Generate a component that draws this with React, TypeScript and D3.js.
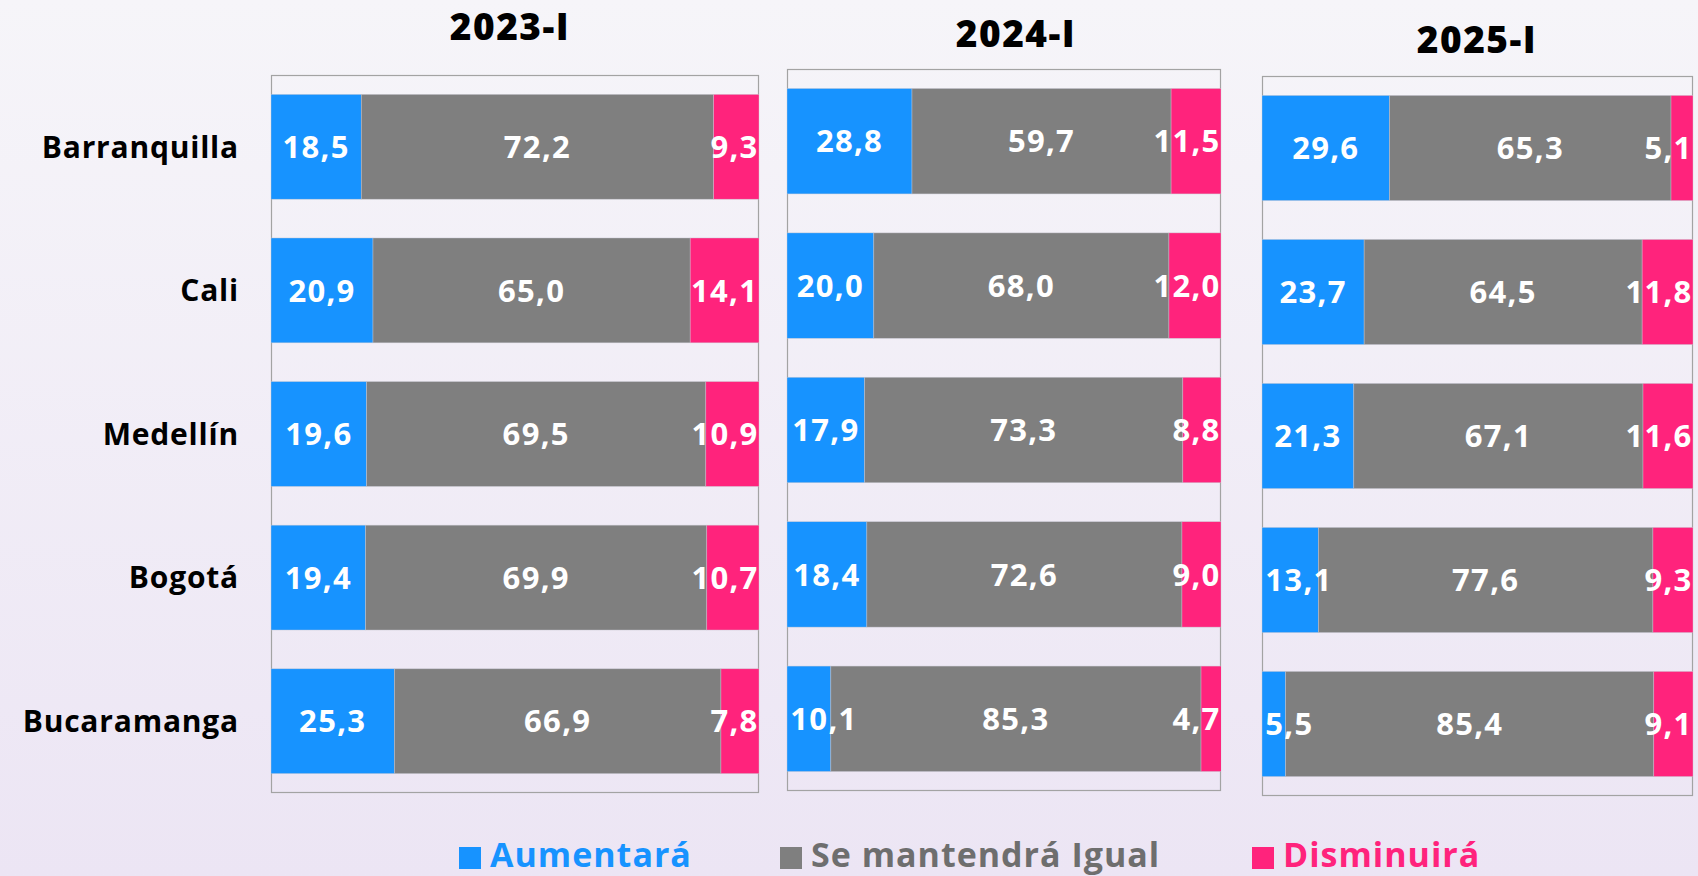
import React from "react";
import * as d3 from "d3";

const cities = ["Barranquilla", "Cali", "Medellín", "Bogotá", "Bucaramanga"];
const periods = ["2023-I", "2024-I", "2025-I"];
const seriesNames = ["Aumentará", "Se mantendrá Igual", "Disminuirá"];
const seriesColors = ["#1793FF", "#7F7F7F", "#FF237C"];
const legendTextColors = ["#1793FF", "#6E6E6E", "#FF237C"];

const aumentara2023 = [18.5, 20.9, 19.6, 19.4, 25.3];
const igual2023 = [72.2, 65.0, 69.5, 69.9, 66.9];
const disminuira2023 = [9.3, 14.1, 10.9, 10.7, 7.8];

const aumentara2024 = [28.8, 20.0, 17.9, 18.4, 10.1];
const igual2024 = [59.7, 68.0, 73.3, 72.6, 85.3];
const disminuira2024 = [11.5, 12.0, 8.8, 9.0, 4.7];

const aumentara2025 = [29.6, 23.7, 21.3, 13.1, 5.5];
const igual2025 = [65.3, 64.5, 67.1, 77.6, 85.4];
const disminuira2025 = [5.1, 11.8, 11.6, 9.3, 9.1];

const periodSeries = [
  [aumentara2023, igual2023, disminuira2023],
  [aumentara2024, igual2024, disminuira2024],
  [aumentara2025, igual2025, disminuira2025],
];

// layout (pixels)
const W = 1698;
const H = 876;
const panels = [
  { x0: 271, x1: 759, y0: 75, y1: 793, tx: 510, ty: 40 },
  { x0: 787, x1: 1221, y0: 69, y1: 791, tx: 1016, ty: 47 },
  { x0: 1262, x1: 1693, y0: 76, y1: 796, tx: 1477, ty: 53 },
];
const FONT = "'Open Sans', Lato, sans-serif";
const valueFontSize = 31;
const valueLetterSpacing = 1.3;

let canvasCtx: CanvasRenderingContext2D | null = null;
function measure(text: string, font: string, ls: number): number {
  if (!canvasCtx) {
    const c = document.createElement("canvas");
    canvasCtx = c.getContext("2d");
  }
  if (!canvasCtx) return text.length * 17;
  canvasCtx.font = font;
  return canvasCtx.measureText(text).width + ls * (text.length - 1);
}

const fmt = (v: number) => d3.format(".1f")(v).replace(".", ",");

function Panel({ idx }: { idx: number }) {
  const p = panels[idx];
  const data = periodSeries[idx];
  const x = d3.scaleLinear().domain([0, 100]).range([p.x0, p.x1]);
  const y = d3
    .scaleBand<string>()
    .domain(cities)
    .range([p.y0, p.y1])
    .paddingInner(0.27)
    .paddingOuter(0.135);
  const rows = cities.map((c, i) => ({
    city: c,
    a: data[0][i],
    g: data[1][i],
    d: data[2][i],
  }));
  const stack = d3.stack<any>().keys(["a", "g", "d"])(rows);
  const clipId = `clip-${idx}`;
  return (
    <g>
      <defs>
        <clipPath id={clipId}>
          <rect x={p.x0} y={p.y0} width={p.x1 - p.x0} height={p.y1 - p.y0} />
        </clipPath>
      </defs>
      <text
        x={p.tx}
        y={p.ty}
        textAnchor="middle"
        fontFamily={FONT}
        fontWeight={800}
        fontSize={37}
        letterSpacing={1.5}
        fill="#000"
      >
        {periods[idx]}
      </text>
      <rect
        x={p.x0 + 0.5}
        y={p.y0 + 0.5}
        width={p.x1 - p.x0 - 1}
        height={p.y1 - p.y0 - 1}
        fill="none"
        stroke="#A3A3A3"
        strokeWidth={1.2}
      />
      <g clipPath={`url(#${clipId})`}>
        {stack.map((layer, si) =>
          layer.map((seg, ri) => {
            const xs = x(seg[0]);
            const xe = x(seg[1]);
            const yy = y(cities[ri]) as number;
            return (
              <rect
                key={`r${si}-${ri}`}
                x={xs}
                y={yy}
                width={xe - xs}
                height={y.bandwidth()}
                fill={seriesColors[si]}
                stroke="rgba(200,200,210,0.7)"
                strokeWidth={0.6}
              />
            );
          })
        )}
        {stack.map((layer, si) =>
          layer.map((seg, ri) => {
            const v = data[si][ri];
            const label = fmt(v);
            const tw = measure(label, `700 ${valueFontSize}px ${FONT}`, valueLetterSpacing);
            const center = (x(seg[0]) + x(seg[1])) / 2;
            const half = tw / 2;
            const cx = Math.max(p.x0 + half + 4, Math.min(p.x1 - half - 1, center));
            const yy = (y(cities[ri]) as number) + y.bandwidth() / 2;
            return (
              <text
                key={`t${si}-${ri}`}
                x={cx}
                y={yy}
                dy="0.36em"
                textAnchor="middle"
                fontFamily={FONT}
                fontWeight={700}
                fontSize={valueFontSize}
                letterSpacing={valueLetterSpacing}
                fill="#FFFFFF"
              >
                {label}
              </text>
            );
          })
        )}
      </g>
    </g>
  );
}

export default function App() {
  const p = panels[0];
  const y = d3
    .scaleBand<string>()
    .domain(cities)
    .range([p.y0, p.y1])
    .paddingInner(0.27)
    .paddingOuter(0.135);
  const legendItems = [
    { sx: 459, tx: 490 },
    { sx: 780, tx: 811 },
    { sx: 1252, tx: 1283 },
  ];
  return (
    <svg
      width={W}
      height={H}
      style={{ position: "absolute", left: 0, top: 0, display: "block" }}
    >
      <defs>
        <linearGradient id="bg" x1="0" y1="0" x2="0" y2="1">
          <stop offset="0%" stopColor="#F6F5F9" />
          <stop offset="100%" stopColor="#ECE5F4" />
        </linearGradient>
      </defs>
      <rect x={0} y={0} width={W} height={H} fill="url(#bg)" />
      {cities.map((c) => (
        <text
          key={c}
          x={239}
          y={(y(c) as number) + y.bandwidth() / 2}
          dy="0.36em"
          textAnchor="end"
          fontFamily={FONT}
          fontWeight={700}
          fontSize={30}
          letterSpacing={0.8}
          fill="#000"
        >
          {c}
        </text>
      ))}
      {periods.map((_, i) => (
        <Panel key={i} idx={i} />
      ))}
      {seriesNames.map((name, i) => (
        <g key={name}>
          <rect x={legendItems[i].sx} y={847} width={22} height={22} fill={seriesColors[i]} />
          <text
            x={legendItems[i].tx}
            y={867}
            fontFamily={FONT}
            fontWeight={700}
            fontSize={34}
            letterSpacing={1}
            fill={legendTextColors[i]}
          >
            {name}
          </text>
        </g>
      ))}
    </svg>
  );
}
